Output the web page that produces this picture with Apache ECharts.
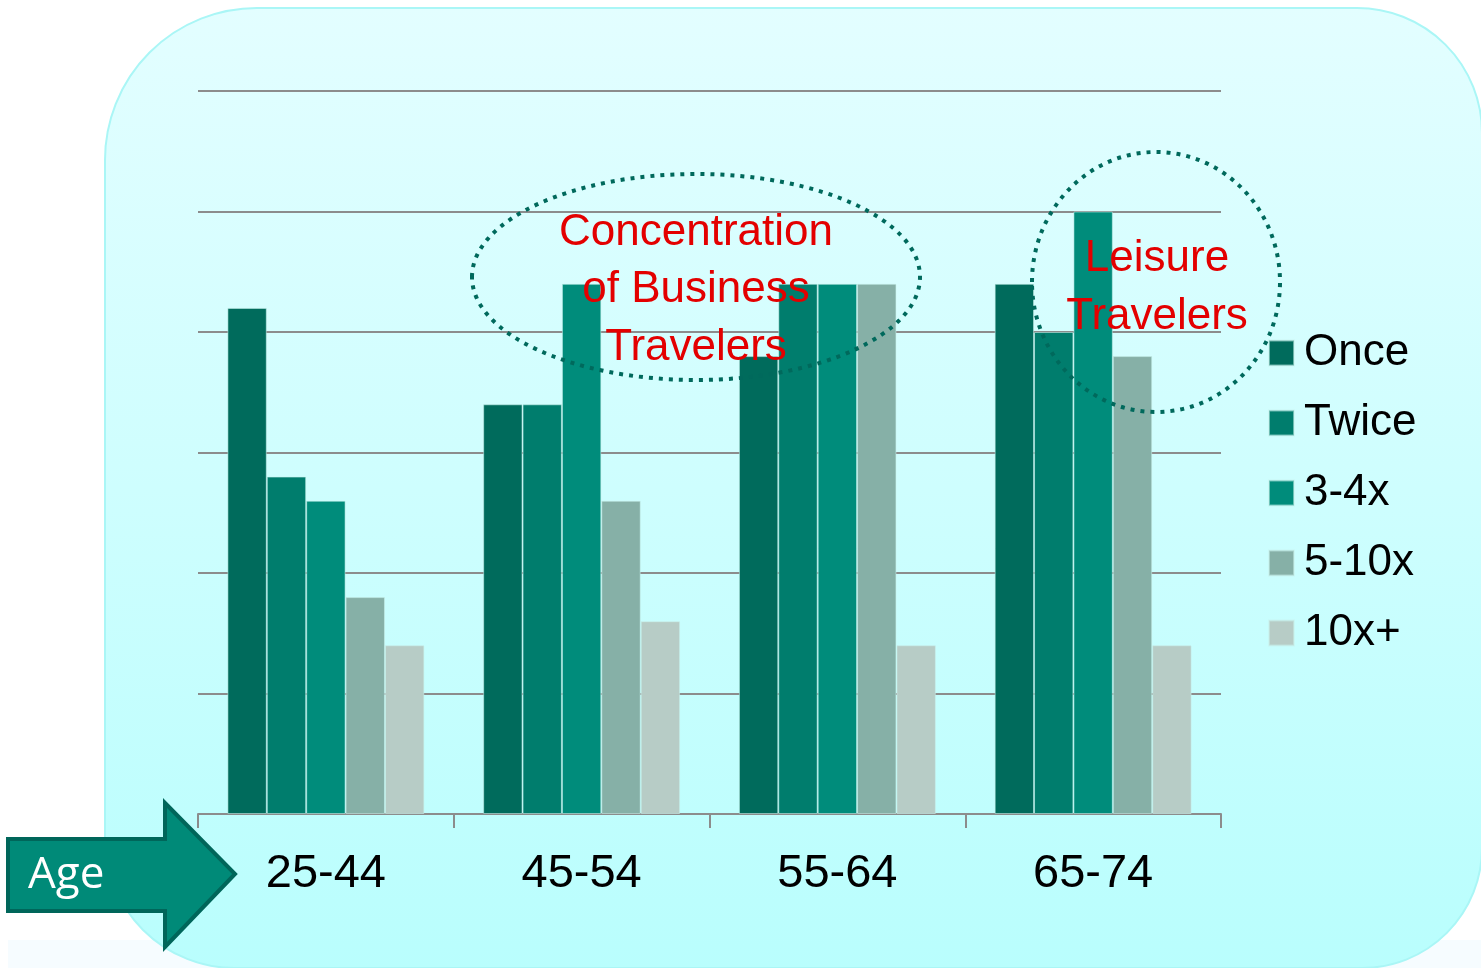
<!DOCTYPE html>
<html>
<head>
<meta charset="utf-8">
<script src="https://cdn.jsdelivr.net/npm/echarts@6/dist/echarts.min.js"></script>
<style>
html,body{margin:0;padding:0;background:#ffffff;}
#chart{width:1481px;height:968px;}
</style>
</head>
<body>
<div id="chart"></div>
<script>
const categories = ['25-44', '45-54', '55-64', '65-74'];
const seriesNames = ['Once', 'Twice', '3-4x', '5-10x', '10x+'];
const onceValues  = [4.2, 3.4, 3.8, 4.4];
const twiceValues = [2.8, 3.4, 4.4, 4.0];
const threeFourValues = [2.6, 4.4, 4.4, 5.0];
const fiveTenValues = [1.8, 2.6, 4.4, 3.8];
const tenPlusValues = [1.4, 1.6, 1.4, 1.4];
const yMin = 0, yMax = 6, yInterval = 1;
const seriesColors = ['#006b5c', '#007d6d', '#008c7b', '#86b0a7', '#b7ccc6'];
const allValues = [onceValues, twiceValues, threeFourValues, fiveTenValues, tenPlusValues];

const FONT = '"Liberation Sans", Arial, sans-serif';
const chart = echarts.init(document.getElementById('chart'), null, {renderer: 'canvas'});

const series = seriesNames.map((name, i) => ({
  name: name,
  type: 'bar',
  data: allValues[i],
  barGap: '0%',
  barCategoryGap: '23%',
  itemStyle: {color: seriesColors[i], borderColor: 'rgba(200,240,235,0.55)', borderWidth: 1},
  emphasis: {disabled: true},
  z: 3
}));

chart.setOption({
  animation: false,
  backgroundColor: 'transparent',
  graphic: [
    {type: 'rect', z: -20, silent: true, shape: {x: 8, y: 940, width: 1473, height: 28},
     style: {fill: '#f6fcff'}},
    {type: 'rect', z: -10, silent: true,
     shape: {x: 105, y: 8, width: 1377, height: 960, r: [152, 125, 120, 130]},
     style: {
       fill: new echarts.graphic.LinearGradient(0, 0, 0, 1, [
         {offset: 0, color: '#e3feff'},
         {offset: 1, color: '#b9fefd'}
       ]),
       stroke: '#aaf6f6', lineWidth: 2
     }},
    {type: 'polygon', z: 50, silent: true,
     shape: {points: [[8, 839], [165, 839], [165, 803], [235, 874], [165, 947], [165, 911], [8, 911]]},
     style: {fill: '#008a78', stroke: '#00665a', lineWidth: 4, lineJoin: 'miter'}},
    {type: 'text', z: 51, silent: true, x: 28, y: 875,
     style: {text: 'Age', fill: '#ffffff', font: '44px "Open Sans", sans-serif', textAlign: 'left', textVerticalAlign: 'middle'}},
    {type: 'ellipse', z: 60, silent: true, shape: {cx: 696, cy: 277, rx: 224, ry: 103},
     style: {fill: 'none', stroke: '#00695c', lineWidth: 4, lineDash: [4, 6]}},
    {type: 'ellipse', z: 60, silent: true, shape: {cx: 1156, cy: 282, rx: 124, ry: 130},
     style: {fill: 'none', stroke: '#00695c', lineWidth: 4, lineDash: [4, 6]}},
    {type: 'text', z: 61, silent: true, x: 696, y: 290,
     style: {text: 'Concentration\nof Business\nTravelers', fill: '#e30000', font: '44px ' + FONT,
             textAlign: 'center', textVerticalAlign: 'middle', lineHeight: 57.5}},
    {type: 'text', z: 61, silent: true, x: 1157, y: 288,
     style: {text: 'Leisure\nTravelers', fill: '#e30000', font: '44px ' + FONT,
             textAlign: 'center', textVerticalAlign: 'middle', lineHeight: 57.5}}
  ],
  legend: {
    orient: 'vertical',
    left: 1263,
    top: 326,
    padding: 5,
    itemWidth: 25,
    itemHeight: 25,
    itemGap: 26,
    icon: 'rect',
    data: seriesNames,
    textStyle: {fontSize: 44, lineHeight: 44, color: '#000000', fontFamily: FONT, padding: [0, 0, 0, 5]},
    selectedMode: false
  },
  grid: {left: 198, right: 260, top: 91, bottom: 154, containLabel: false, outerBoundsMode: 'none'},
  xAxis: {
    type: 'category',
    data: categories,
    axisLine: {show: true, lineStyle: {color: '#8c8c8c', width: 2}},
    axisTick: {show: true, length: 14, lineStyle: {color: '#8c8c8c', width: 2}},
    axisLabel: {fontSize: 47, color: '#000000', fontFamily: FONT, margin: 37, lineHeight: 47}
  },
  yAxis: {
    type: 'value',
    min: yMin, max: yMax, interval: yInterval,
    axisLine: {show: false},
    axisTick: {show: false},
    axisLabel: {show: false},
    splitLine: {show: true, lineStyle: {color: '#8c8c8c', width: 2}}
  },
  series: series
});
</script>
</body>
</html>
